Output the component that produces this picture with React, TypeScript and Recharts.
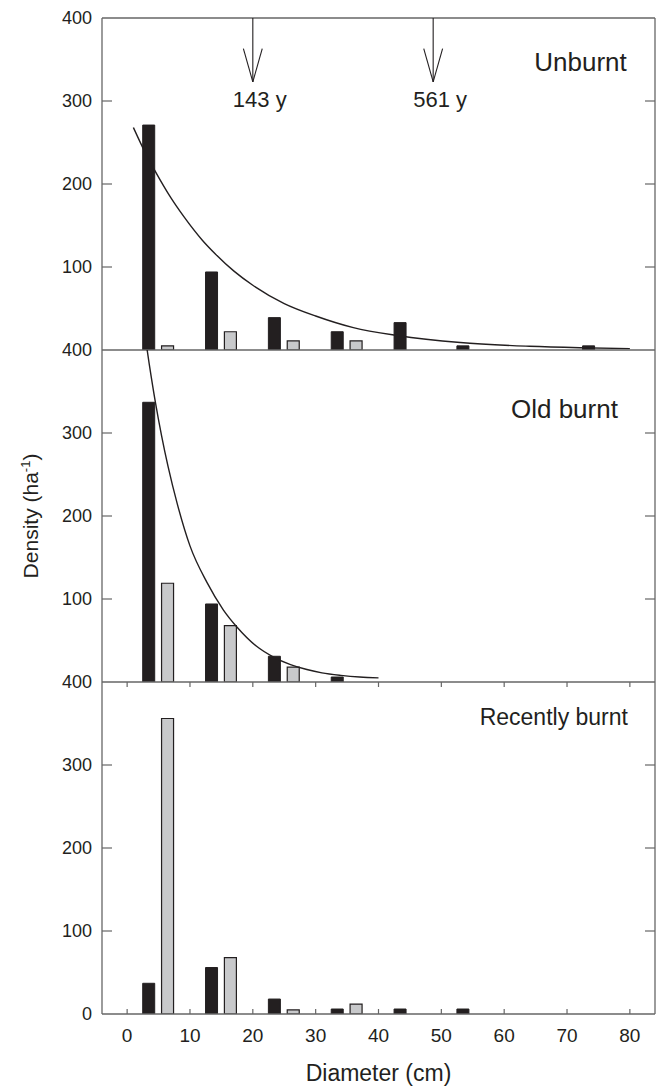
import React from 'react';
import {
  ComposedChart,
  Bar,
  Line,
  XAxis,
  YAxis,
  ReferenceLine,
  ReferenceDot,
} from 'recharts';

// diameter classes (cm), bars sit either side of the class mid
const DIAMETER_CLASSES = [5, 15, 25, 35, 45, 55, 65, 75];
const X_TICKS = [0, 10, 20, 30, 40, 50, 60, 70, 80];

const UNBURNT_DARK = [271, 94, 39, 22, 33, 5, 0, 5];
const UNBURNT_LIGHT = [5, 22, 11, 11, 0, 0, 0, 0];
const OLD_DARK = [337, 94, 31, 6, 0, 0, 0, 0];
const OLD_LIGHT = [119, 68, 18, 0, 0, 0, 0, 0];
const RECENT_DARK = [37, 56, 18, 6, 6, 6, 0, 0];
const RECENT_LIGHT = [356, 68, 5, 12, 0, 0, 0, 0];

// fitted curves
const UNBURNT_FIT_X = [1, 3, 4.5, 7, 9, 12, 14, 17, 20, 25, 30, 36, 43, 53, 64, 72, 80];
const UNBURNT_FIT_Y = [268, 236, 215, 183, 161, 132, 116, 95, 78, 56, 41, 27, 17.5, 9, 4.5, 2.7, 1.6];
const OLD_FIT_X = [2.6, 3.5, 4.5, 5.5, 6.5, 8, 10, 12.7, 15.3, 17.5, 20.6, 23.3, 26, 28.6, 31, 34, 37, 40];
const OLD_FIT_Y = [430, 384, 337, 296, 260, 214, 164, 120, 87, 66, 43, 30, 21, 15, 11, 8, 6, 5];

const ARROW_X = [20, 48.7];
const ARROW_LABELS = ['143 y', '561 y'];

const BAR_SHIFT = 1.5;
const FONT = '"Liberation Sans", Arial, sans-serif';
const INK = '#231f20';
const FRAME = '#666';
const PLOT_LEFT = 102;
const PLOT_RIGHT = 655;
const PLOT_H = 332;

const barRows = (dark: number[], light: number[]) =>
  DIAMETER_CLASSES.flatMap((c, i) => {
    const rows: any[] = [];
    if (dark[i] > 0) rows.push({ x: c - BAR_SHIFT, dark: dark[i] });
    if (light[i] > 0) rows.push({ x: c + BAR_SHIFT, light: light[i] });
    return rows;
  });

const fitRows = (xs: number[], ys: number[]) => xs.map((x, i) => ({ x, y: ys[i] }));

const XTick = (props: any) => {
  const { x, y, payload, showLabel } = props;
  return (
    <g>
      <line x1={x} x2={x} y1={y} y2={y - 5} stroke={FRAME} strokeWidth={1.2} />
      <line x1={x} x2={x} y1={y - PLOT_H} y2={y - PLOT_H + 5} stroke={FRAME} strokeWidth={1.2} />
      {showLabel && (
        <text x={x} y={y + 28} textAnchor='middle' fontSize={19} fontFamily={FONT} fill={INK}>
          {payload.value}
        </text>
      )}
    </g>
  );
};

const YTick = (props: any) => {
  const { x, y, payload } = props;
  const inner = payload.value > 0 && payload.value < 400;
  return (
    <g>
      {inner && <line x1={x} x2={x + 10} y1={y} y2={y} stroke={FRAME} strokeWidth={1.2} />}
      {inner && (
        <line x1={PLOT_RIGHT} x2={PLOT_RIGHT - 10} y1={y} y2={y} stroke={FRAME} strokeWidth={1.2} />
      )}
      <text x={x - 10} y={y} dy='0.36em' textAnchor='end' fontSize={18} fontFamily={FONT} fill={INK}>
        {payload.value}
      </text>
    </g>
  );
};

const TextAt = (props: any) => {
  const { viewBox, text, size, anchor } = props;
  return (
    <text
      x={viewBox.x}
      y={viewBox.y}
      textAnchor={anchor}
      fontSize={size}
      fontFamily={FONT}
      fill={INK}
    >
      {text}
    </text>
  );
};

const DensityLabel = (props: any) => {
  const { viewBox } = props;
  const cy = viewBox.y + viewBox.height / 2;
  return (
    <text
      x={38}
      y={cy}
      transform={`rotate(-90, 38, ${cy})`}
      textAnchor='middle'
      fontSize={21}
      fontFamily={FONT}
      fill={INK}
    >
      Density (ha
      <tspan fontSize={13} dy={-8}>
        -1
      </tspan>
      <tspan dy={8}>)</tspan>
    </text>
  );
};

const DiameterLabel = (props: any) => {
  const { viewBox } = props;
  return (
    <text
      x={viewBox.x + viewBox.width / 2}
      y={viewBox.y + 67}
      textAnchor='middle'
      fontSize={23}
      fontFamily={FONT}
      fill={INK}
    >
      Diameter (cm)
    </text>
  );
};

type PanelProps = {
  dark: number[];
  light: number[];
  fit?: { x: number; y: number }[];
  title: string;
  titleX: number;
  titleY: number;
  titleSize: number;
  yTicks: number[];
  top: number;
  height: number;
  marginTop: number;
  marginBottom: number;
  xAxisHeight: number;
  bottomPanel?: boolean;
  middlePanel?: boolean;
  arrows?: boolean;
};

const Panel = (p: PanelProps) => (
  <div style={{ position: 'absolute', left: 0, top: p.top }}>
    <ComposedChart
      width={663}
      height={p.height}
      data={barRows(p.dark, p.light)}
      margin={{ top: p.marginTop, right: 663 - PLOT_RIGHT, bottom: p.marginBottom, left: 0 }}
    >
      <XAxis
        dataKey='x'
        type='number'
        domain={[-4, 84]}
        ticks={X_TICKS}
        interval={0}
        allowDataOverflow
        height={p.xAxisHeight}
        tickSize={0}
        tickMargin={0}
        tickLine={false}
        axisLine={{ stroke: FRAME, strokeWidth: 1.3 }}
        tick={<XTick showLabel={p.bottomPanel} />}
        label={p.bottomPanel ? <DiameterLabel /> : undefined}
      />
      {/* separate hidden axis for the fitted curve so it does not shrink the bars */}
      <XAxis xAxisId='fit' dataKey='x' type='number' domain={[-4, 84]} allowDataOverflow hide />
      <YAxis
        type='number'
        domain={[0, 400]}
        ticks={p.yTicks}
        interval={0}
        allowDataOverflow
        width={PLOT_LEFT}
        tickSize={0}
        tickMargin={0}
        tickLine={false}
        axisLine={{ stroke: FRAME, strokeWidth: 1.3 }}
        tick={<YTick />}
        label={p.middlePanel ? <DensityLabel /> : undefined}
      />
      <ReferenceLine y={400} stroke={FRAME} strokeWidth={1.3} />
      <ReferenceLine x={84} stroke={FRAME} strokeWidth={1.3} />
      <Bar
        dataKey='dark'
        stackId='s'
        barSize={12}
        fill={INK}
        stroke={INK}
        strokeWidth={1}
        isAnimationActive={false}
      />
      <Bar
        dataKey='light'
        stackId='s'
        barSize={12}
        fill='#c8c9cb'
        stroke={INK}
        strokeWidth={1.2}
        isAnimationActive={false}
      />
      {p.fit && (
        <Line
          xAxisId='fit'
          data={p.fit}
          dataKey='y'
          type='monotone'
          stroke={INK}
          strokeWidth={1.4}
          dot={false}
          activeDot={false}
          isAnimationActive={false}
        />
      )}
      {p.arrows &&
        ARROW_X.flatMap((ax, i) => [
          <ReferenceLine
            key={`s${i}`}
            segment={[
              { x: ax, y: 400 },
              { x: ax, y: 323 },
            ]}
            stroke={INK}
            strokeWidth={1.1}
          />,
          <ReferenceLine
            key={`l${i}`}
            segment={[
              { x: ax - 1.5, y: 363 },
              { x: ax, y: 323 },
            ]}
            stroke={INK}
            strokeWidth={1.1}
          />,
          <ReferenceLine
            key={`r${i}`}
            segment={[
              { x: ax + 1.5, y: 363 },
              { x: ax, y: 323 },
            ]}
            stroke={INK}
            strokeWidth={1.1}
          />,
          <ReferenceDot
            key={`t${i}`}
            x={ax + 1.1}
            y={293}
            r={0}
            fill='none'
            stroke='none'
            label={<TextAt text={ARROW_LABELS[i]} size={22} anchor='middle' />}
          />,
        ])}
      <ReferenceDot
        x={p.titleX}
        y={p.titleY}
        r={0}
        fill='none'
        stroke='none'
        label={<TextAt text={p.title} size={p.titleSize} anchor='end' />}
      />
    </ComposedChart>
  </div>
);

export default function App() {
  return (
    <div style={{ position: 'absolute', left: 0, top: 0, width: 663, height: 1087, background: '#fff' }}>
      <Panel
        dark={UNBURNT_DARK}
        light={UNBURNT_LIGHT}
        fit={fitRows(UNBURNT_FIT_X, UNBURNT_FIT_Y)}
        title='Unburnt'
        titleX={79.5}
        titleY={336}
        titleSize={26}
        yTicks={[100, 200, 300, 400]}
        top={0}
        height={360}
        marginTop={18}
        marginBottom={10}
        xAxisHeight={0}
        arrows
      />
      <Panel
        dark={OLD_DARK}
        light={OLD_LIGHT}
        fit={fitRows(OLD_FIT_X, OLD_FIT_Y)}
        title='Old burnt'
        titleX={78.1}
        titleY={318}
        titleSize={26}
        yTicks={[100, 200, 300, 400]}
        top={330}
        height={362}
        marginTop={20}
        marginBottom={10}
        xAxisHeight={0}
        middlePanel
      />
      <Panel
        dark={RECENT_DARK}
        light={RECENT_LIGHT}
        title='Recently burnt'
        titleX={79.7}
        titleY={348}
        titleSize={23}
        yTicks={[0, 100, 200, 300, 400]}
        top={662}
        height={425}
        marginTop={20}
        marginBottom={0}
        xAxisHeight={73}
        bottomPanel
      />
    </div>
  );
}
